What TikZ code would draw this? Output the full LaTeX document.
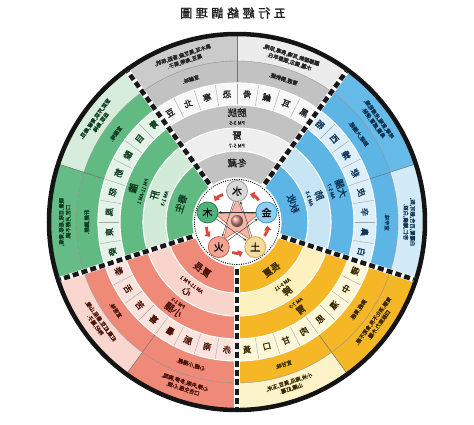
\documentclass[tikz,border=0pt]{standalone}
\usepackage{fontspec}
\usetikzlibrary{arrows.meta,shapes.geometric}
\newfontfamily\cjk{Noto Sans CJK TC}
\newfontfamily\cjks[FakeBold=0.8]{Noto Sans CJK TC}
\newfontfamily\cjkb[FakeBold=1.4]{Noto Sans CJK TC}
\newfontfamily\cjkt[FakeBold=1.8,LetterSpace=30]{Noto Sans CJK TC}

\definecolor{gD}{HTML}{C2C2C2}\definecolor{gL}{HTML}{EEEEEE}\definecolor{gC}{HTML}{F8F8F8}
\definecolor{gA}{HTML}{ECECEC}\definecolor{gB}{HTML}{CBCBCB}
\definecolor{bD}{HTML}{5CB5E5}\definecolor{bL}{HTML}{C8E5F6}\definecolor{bC}{HTML}{DDEFFA}
\definecolor{bA}{HTML}{D3EBF8}\definecolor{bB}{HTML}{66BAE7}
\definecolor{yD}{HTML}{F6B726}\definecolor{yL}{HTML}{FDF1BF}\definecolor{yC}{HTML}{FEF7DA}
\definecolor{yA}{HTML}{FDF3C9}\definecolor{yB}{HTML}{F6B726}
\definecolor{rD}{HTML}{EF8A79}\definecolor{rL}{HTML}{F9D4CB}\definecolor{rC}{HTML}{FBE3DD}
\definecolor{rA}{HTML}{F9D7CF}\definecolor{rB}{HTML}{EF8A79}
\definecolor{nD}{HTML}{62BA83}\definecolor{nL}{HTML}{D2EAD8}\definecolor{nC}{HTML}{E3F3E7}
\definecolor{nA}{HTML}{D6EDDC}\definecolor{nB}{HTML}{66BC86}
\definecolor{tG}{HTML}{222222}\definecolor{tB}{HTML}{0E3556}\definecolor{tY}{HTML}{3B2A00}
\definecolor{tR}{HTML}{4A120A}\definecolor{tN}{HTML}{0F3D22}
\definecolor{arr}{HTML}{D9473D}\definecolor{stF}{HTML}{F4B7A9}\definecolor{stD}{HTML}{C8604E}
\definecolor{eW}{HTML}{D9D9D9}\definecolor{eWb}{HTML}{9C9C9C}
\definecolor{eM}{HTML}{8CCFF0}\definecolor{eMb}{HTML}{3F98C8}
\definecolor{eE}{HTML}{F5DC9E}\definecolor{eEb}{HTML}{D5A640}
\definecolor{eF}{HTML}{F2A593}\definecolor{eFb}{HTML}{C9624E}
\definecolor{eN}{HTML}{4DB37A}\definecolor{eNb}{HTML}{2B7C4C}

\newcommand\annsec[5]{\fill[#1] ({#2}:#4pt) arc[start angle={#2},end angle={#3},radius=#4pt] -- ({#3}:#5pt) arc[start angle={#3},end angle={#2},radius=#5pt] -- cycle;}
\newcommand\fillsector[6]{%
 \annsec{#2}{#1}{#1+72}{44}{71}%
 \annsec{#3}{#1}{#1+72}{71}{94}%
 \annsec{#2}{#1}{#1+72}{94}{117}%
 \annsec{#4}{#1}{#1+72}{117}{139}%
 \annsec{#2}{#1}{#1+72}{139}{161}%
 \annsec{#5}{#1}{#1+36}{161}{187}%
 \annsec{#6}{#1+36}{#1+72}{161}{187}%
 \foreach \k in {1,...,7} {\draw[celline] ({#1+9*\k}:117pt) -- ({#1+9*\k}:139pt);}%
 \draw[subline] ({#1+36}:139pt) -- ({#1+36}:187pt);%
 \draw[rline] ({#1}:161pt) arc[start angle={#1},end angle={#1+72},radius=161pt];%
}
\newcounter{tn}
\newcommand\rtT[4]{\stepcounter{tn}\node[#1,rotate={#2-90},xscale=-1] (t\arabic{tn}) at ({#2}:#3pt) {#4};}
\newcommand\rtB[4]{\stepcounter{tn}\node[#1,rotate={#2+90},xscale=-1] (t\arabic{tn}) at ({#2}:#3pt) {#4};}
\newcommand\tim[1]{{\cjks\fontsize{5}{5}\selectfont #1}}

\begin{document}
\begin{tikzpicture}[x=1pt,y=1pt,
  celline/.style={draw=black!35, line width=0.4pt},
  subline/.style={draw=black!55, line width=0.5pt},
  rline/.style={draw=black!45, line width=0.4pt},
  lab/.style={font=\cjkb\fontsize{9.5}{9.5}\selectfont, align=center, inner sep=0pt},
  cell/.style={font=\cjkb\fontsize{8.5}{8.5}\selectfont, inner sep=0pt},
  small/.style={font=\cjks\fontsize{5.3}{6.8}\selectfont, align=center, inner sep=0pt},
  elem/.style={circle, minimum size=21pt, inner sep=0pt, line width=0.8pt, font=\cjkb\fontsize{10}{10}\selectfont, xscale=-1},
  gen/.style={draw=arr, line width=2.8pt, -{Triangle[length=4.5pt,width=7.5pt]}, shorten >=2.5pt, shorten <=3.5pt},
  ctl/.style={draw=black!80, line width=0.4pt, -{Stealth[length=3pt,width=2.4pt]}},
]
\fill[white] (-237,-202) rectangle (237,222);
\useasboundingbox (-237,-202) rectangle (237,222);

% sectors
\fillsector{54}{gD}{gL}{gC}{gA}{gB}
\fillsector{-18}{bD}{bL}{bC}{bA}{bB}
\fillsector{270}{yD}{yL}{yC}{yA}{yB}
\fillsector{198}{rD}{rL}{rC}{rA}{rB}
\fillsector{126}{nD}{nL}{nC}{nA}{nB}

\foreach \r in {44,71,94,117,139} {\draw[white, line width=1.1pt] (0,0) circle[radius=\r pt];}
\draw[line width=4.5pt, black!92] (0,0) circle[radius=188pt];
\foreach \a in {54,126,198,270,342} {
  \draw[white, line width=5.5pt] (\a:44pt) -- (\a:186pt);
  \draw[black!90, line width=4.6pt, dash pattern=on 6pt off 3.2pt] (\a:47pt) -- (\a:186pt);
}

% inner disc
\fill[white] (0,0) circle[radius=44pt];
\draw[black, line width=1.3pt, line cap=round, dash pattern=on 0pt off 2.3pt] (0,0) circle[radius=42.5pt];
\node[star, star points=5, star point ratio=2.3, minimum size=46pt, inner sep=0pt, fill=stF, draw=stD, line width=0.6pt] (star) at (0,1) {};
\node[circle, minimum size=12pt, inner sep=0pt, shading=ball, ball color=stD!70!white] (ball) at (0,1) {};
\node[elem, fill=eW, draw=eWb] (shui) at (90:31pt) {水};
\node[elem, fill=eM, draw=eMb] (jin) at (18:31pt) {金};
\node[elem, fill=eE, draw=eEb] (tu) at (-54:31pt) {土};
\node[elem, fill=eF, draw=eFb] (huo) at (234:31pt) {火};
\node[elem, fill=eN, draw=eNb] (mu) at (162:31pt) {木};
\draw[ctl] (shui) -- (huo);
\draw[ctl] (huo) -- (jin);
\draw[ctl] (jin) -- (mu);
\draw[ctl] (mu) -- (tu);
\draw[ctl] (tu) -- (shui);
\draw[gen] (jin) to[bend right=22] (shui);
\draw[gen] (shui) to[bend right=22] (mu);
\draw[gen] (mu) to[bend right=22] (huo);
\draw[gen] (huo) to[bend right=22] (tu);
\draw[gen] (tu) to[bend right=22] (jin);

% ring 1
\rtT{lab,text=tG}{90}{59}{冬藏}
\rtT{lab,text=tB}{18}{59}{秋收}
\rtB{lab,text=tY}{306}{59}{長夏}
\rtB{lab,text=tR}{234}{59}{夏長}
\rtT{lab,text=tN}{162}{59}{春生}
% ring 2
\rtT{lab,text=tG}{90}{82.5}{腎\\[-1pt]\tim{PM 5-7}}
\rtT{lab,text=tB}{18}{82.5}{肺\\[-1pt]\tim{AM 3-5}}
\rtB{lab,text=tY}{306}{82.5}{\tim{AM 9-11}\\[0.5pt]脾}
\rtB{lab,text=tR}{234}{82.5}{\tim{AM 11-PM 1}\\[0.5pt]心}
\rtT{lab,text=tN}{162}{82.5}{肝\\[-1pt]\tim{AM 1-3}}
% ring 3
\rtT{lab,text=tG}{90}{105.5}{膀胱\\[-1pt]\tim{PM 3-5}}
\rtT{lab,text=tB}{18}{105.5}{大腸\\[-1pt]\tim{AM 5-7}}
\rtB{lab,text=tY}{306}{105.5}{\tim{AM 7-9}\\[0.5pt]胃}
\rtB{lab,text=tR}{234}{105.5}{\tim{PM 1-3}\\[0.5pt]小腸}
\rtT{lab,text=tN}{162}{105.5}{膽\\[-1pt]\tim{PM 11-AM 1}}

% ring 4 cells
\foreach \c [count=\i] in {黑,耳,鹹,骨,恐,寒,北,豆}
  {\node[cell,text=tG,rotate={54+9*\i-94.5},xscale=-1] (gc\i) at ({54+9*\i-4.5}:128pt) {\c};}
\foreach \c [count=\i] in {白,鼻,辛,皮,悲,燥,西,稻}
  {\node[cell,text=tB,rotate={-18+9*\i-94.5},xscale=-1] (bc\i) at ({-18+9*\i-4.5}:128pt) {\c};}
\foreach \c [count=\i] in {青,目,酸,筋,怒,風,東,麥}
  {\node[cell,text=tN,rotate={126+9*\i-94.5},xscale=-1] (nc\i) at ({126+9*\i-4.5}:128pt) {\c};}
\foreach \c [count=\i] in {黃,口,甘,肉,思,濕,中,稷}
  {\node[cell,text=tY,rotate={270+9*\i+85.5},xscale=-1] (yc\i) at ({270+9*\i-4.5}:128pt) {\c};}
\foreach \c [count=\i] in {黍,舌,苦,喜,暑,脈,南,赤}
  {\node[cell,text=tR,rotate={198+9*\i+85.5},xscale=-1] (rc\i) at ({198+9*\i-4.5}:128pt) {\c};}

% rings 5 and 6
\rtT{small,text=tG}{72}{172}{腰膝酸軟,耳鳴,畏寒,尿頻,\\水腫,健忘,頭髮早白.}
\rtT{small,text=tG}{72}{150}{腎經,膀胱經.}
\rtT{small,text=tG}{108}{172}{黑木耳,黑芝麻,香菇,核桃,\\黑豆,海帶,栗子.}
\rtT{small,text=tG}{108}{150}{宜鹹味.}
\rtT{small,text=tB}{36}{172}{咳嗽,氣喘,皮膚乾燥,\\鼻塞,感冒,便秘.}
\rtT{small,text=tB}{36}{150}{肺經,大腸經.}
\rtT{small,text=tB}{0}{172}{白蘿蔔,百合,銀耳,梨,\\杏仁,蓮藕,白菜.}
\rtT{small,text=tB}{0}{150}{宜辛味.}
\rtB{small,text=tY}{324}{172}{胃脹,消化不良,食慾不振,\\四肢無力,水腫.}
\rtB{small,text=tY}{324}{150}{脾經,胃經.}
\rtB{small,text=tY}{288}{172}{小米,南瓜,黃豆,玉米,\\山藥,紅薯.}
\rtB{small,text=tY}{288}{150}{宜甘味.}
\rtB{small,text=tR}{252}{172}{心悸,失眠,多夢,胸悶,\\口舌生瘡,心煩.}
\rtB{small,text=tR}{252}{150}{心經,小腸經.}
\rtB{small,text=tR}{216}{172}{紅棗,紅豆,番茄,山楂,\\枸杞,蓮子.}
\rtB{small,text=tR}{216}{150}{宜苦味.}
\rtT{small,text=tN}{180}{172}{頭暈,目眩,易怒,脅痛,\\口苦,月經不調.}
\rtT{small,text=tN}{180}{150}{肝經,膽經.}
\rtT{small,text=tN}{144}{172}{菠菜,芹菜,青椒,綠豆,\\韭菜,烏梅.}
\rtT{small,text=tN}{144}{150}{宜酸味.}

% title
\node[font=\cjkt\fontsize{12}{12}\selectfont, xscale=-1, text=black!88] (title) at (-4,209) {五行經絡調理圖};
\end{tikzpicture}
\end{document}
